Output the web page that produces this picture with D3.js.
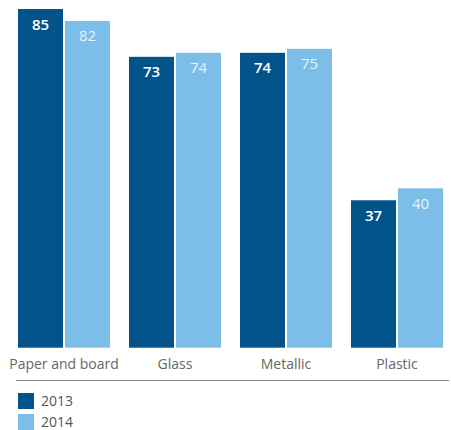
<!DOCTYPE html>
<html><head><meta charset="utf-8">
<script src="https://cdn.jsdelivr.net/npm/d3@7"></script>
<style>body{margin:0;background:#fff}svg{display:block}</style>
</head><body>
<script>
const categories = ["Paper and board", "Glass", "Metallic", "Plastic"];
const seriesNames = ["2013", "2014"];
const values2013 = [85, 73, 74, 37];
const values2014 = [82, 74, 75, 40];
const colors = ["#02538a", "#7dbee8"];
const labelColors = ["#ffffff", "#e6f3fb"];

const W = 451, H = 430;
const svg = d3.select("body").append("svg").attr("width", W).attr("height", H);
const font = "'Open Sans', sans-serif";

const x0 = d3.scaleBand().domain(categories).range([18, 443]).paddingInner(19/111).paddingOuter(0);
const x1 = d3.scaleBand().domain(seriesNames).range([0, x0.bandwidth()]).paddingInner(2/47);
const y = d3.scaleLinear().domain([0, 85]).range([347.7, 9]);

const data = categories.map((c, i) => ({cat: c, vals: [
  {s: "2013", v: values2013[i], k: 0},
  {s: "2014", v: values2014[i], k: 1}
]}));

const g = svg.selectAll("g.grp").data(data).join("g")
  .attr("transform", d => `translate(${x0(d.cat)},0)`);

g.selectAll("rect").data(d => d.vals).join("rect")
  .attr("x", d => x1(d.s)).attr("width", x1.bandwidth())
  .attr("y", d => y(d.v)).attr("height", d => y(0) - y(d.v))
  .attr("fill", d => colors[d.k]);

g.selectAll("text.val").data(d => d.vals).join("text")
  .attr("class", "val")
  .attr("x", d => x1(d.s) + x1.bandwidth()/2)
  .attr("y", d => y(d.v) + 20.5)
  .attr("text-anchor", "middle")
  .attr("font-family", font)
  .attr("font-size", 15)
  .attr("font-weight", d => d.k === 0 ? 600 : 400)
  .attr("fill", d => labelColors[d.k])
  .text(d => d.v);

// category axis labels
const xAxis = d3.axisBottom(x0).tickSize(0).tickPadding(0);
const ax = svg.append("g").attr("transform", "translate(0,369)").call(xAxis);
ax.select(".domain").remove();
ax.selectAll("text").attr("font-family", font).attr("font-size", 14).attr("fill", "#666").attr("dy", "0");

// baseline separator
svg.append("line").attr("x1", 16).attr("x2", 449).attr("y1", 380.5).attr("y2", 380.5)
  .attr("stroke", "#888").attr("stroke-width", 1);

// legend
const leg = svg.selectAll("g.leg").data(seriesNames).join("g")
  .attr("transform", (d, i) => `translate(18,${393 + i*21})`);
leg.append("rect").attr("width", 16).attr("height", 16).attr("fill", (d, i) => colors[i]);
leg.append("text").attr("x", 23).attr("y", 13)
  .attr("font-family", font).attr("font-size", 14).attr("fill", "#555").text(d => d);
</script>
</body></html>
